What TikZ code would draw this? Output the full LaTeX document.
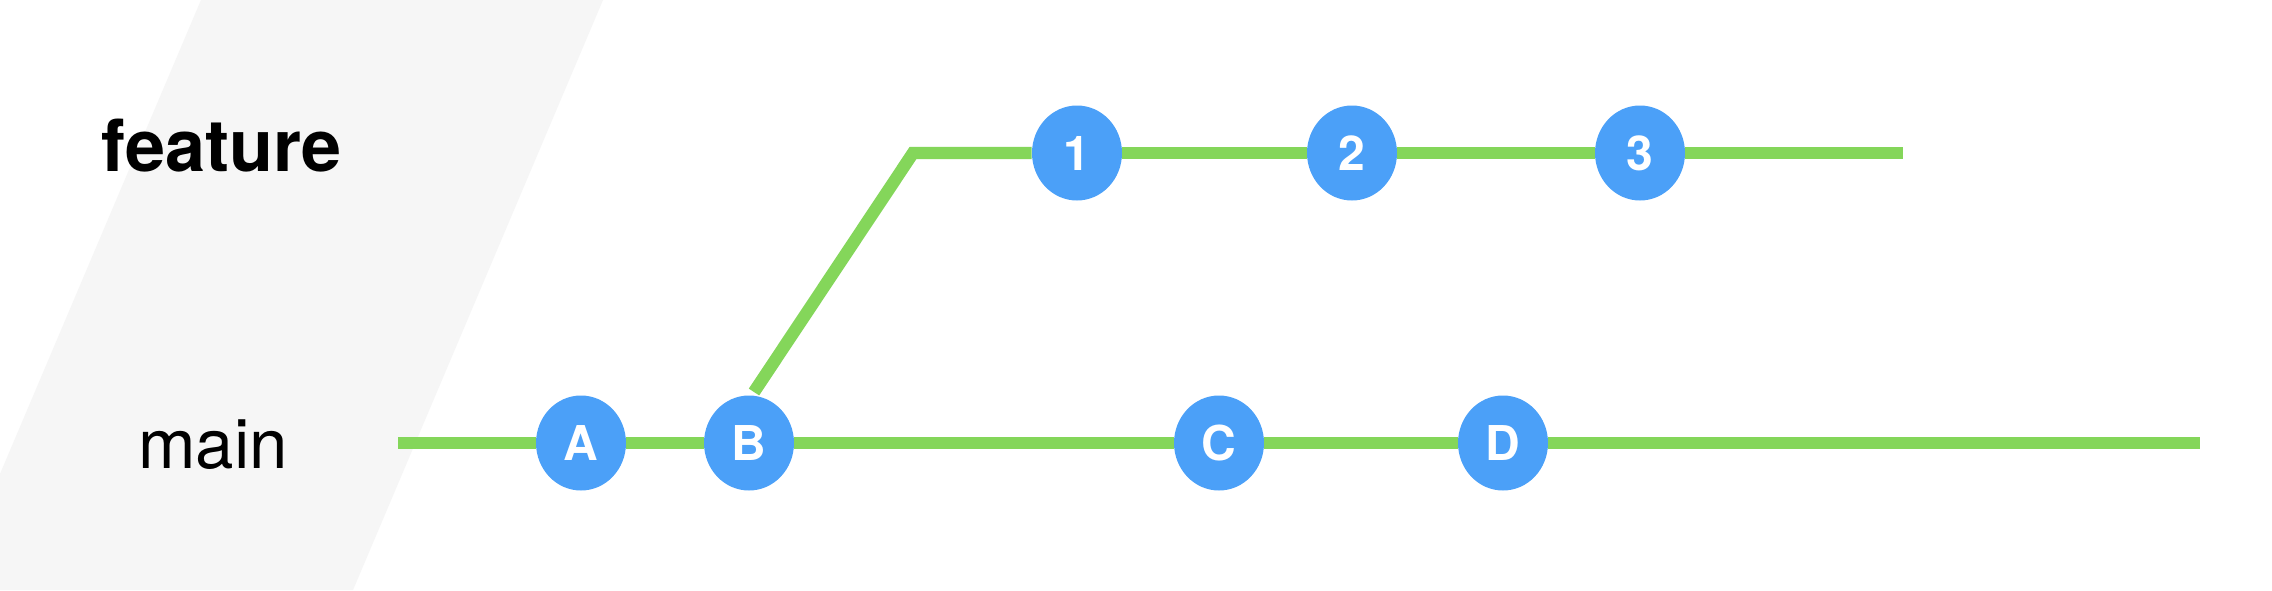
\documentclass[tikz,border=0pt]{standalone}
\usepackage{fontspec}
\setmainfont{TeX Gyre Heros}
\usetikzlibrary{shapes.geometric}
\definecolor{gitgreen}{HTML}{84D65A}
\definecolor{gitblue}{HTML}{4BA0F8}
\definecolor{bggray}{HTML}{F6F6F6}
\tikzset{
  commit/.style={ellipse, fill=gitblue, minimum width=45pt, minimum height=47.5pt,
    inner sep=0pt, text=white, font=\fontsize{24pt}{24pt}\selectfont\bfseries},
  branchline/.style={draw=gitgreen, line width=6.2pt, line join=miter},
  branchlabel/.style={anchor=base, inner sep=0pt, text=black}
}
\begin{document}
\begin{tikzpicture}[x=0.5pt, y=-0.5pt]
\useasboundingbox (0,0) rectangle (2272,590);
\fill[white] (0,0) rectangle (2272,590);
\fill[bggray] (201,0) -- (603,0) -- (353,590) -- (0,590) -- (0,474) -- cycle;

\node[branchlabel, font=\fontsize{36pt}{36pt}\selectfont\bfseries] (lfeature) at (222,171) {feature};
\node[branchlabel, font=\fontsize{34.5pt}{34.5pt}\selectfont] (lmain) at (213,468) {main};

\coordinate (mstart) at (398,443);
\coordinate (mend) at (2200,443);
\coordinate (dstart) at (754,392);
\coordinate (fcorner) at (913,153);
\coordinate (fend) at (1903,153);

\node[commit] (A) at (581,443) {A};
\node[commit] (B) at (749,443) {B};
\node[commit] (C) at (1219,443) {C};
\node[commit] (D) at (1503,443) {D};
\node[commit] (n1) at (1077,153) {1};
\node[commit] (n2) at (1352,153) {2};
\node[commit] (n3) at (1640,153) {3};

\draw[branchline] (mstart) -- (A);
\draw[branchline] (A) -- (B);
\draw[branchline] (B) -- (C);
\draw[branchline] (C) -- (D);
\draw[branchline] (D) -- (mend);
\draw[branchline] (dstart) -- (fcorner) -- (n1);
\draw[branchline] (n1) -- (n2);
\draw[branchline] (n2) -- (n3);
\draw[branchline] (n3) -- (fend);
\end{tikzpicture}
\end{document}
